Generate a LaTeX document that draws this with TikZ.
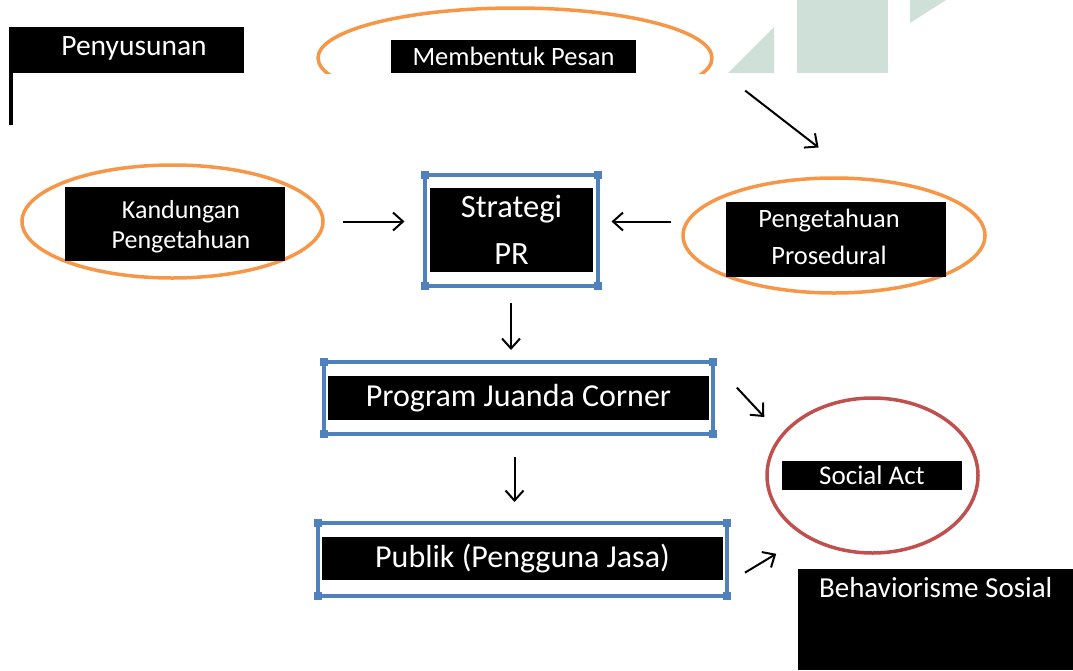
\documentclass[tikz,border=0pt]{standalone}
\usepackage{fontspec}
\setmainfont{Carlito}
\definecolor{myorange}{RGB}{247,150,70}
\definecolor{myblue}{RGB}{79,129,189}
\definecolor{myred}{RGB}{192,80,77}
\definecolor{mywater}{RGB}{207,224,216}
\usetikzlibrary{shapes.geometric,arrows.meta,positioning}

\begin{document}
\begin{tikzpicture}[
  x=1pt,
  y=-1pt,
  blackbox/.style={
    fill=black,
    text=white,
    inner sep=0pt,
    align=center
    },
  ring/.style={ellipse, draw=#1, line width=3.5pt, inner sep=0pt},
  frame/.style={draw=myblue, line width=4pt, inner sep=0pt, outer sep=0pt},
  corner/.style={fill=myblue, minimum size=8pt, inner sep=0pt},
  arr/.style={line width=2pt, -{Straight Barb[length=10pt,width=18pt]}},
  small/.style={font=\fontsize{26.5}{31}\selectfont},
  big/.style={font=\fontsize{32.5}{47}\selectfont}
]
\useasboundingbox (0,0) rectangle (1073,670);

\begin{scope}
  \clip (0,0) rectangle (1073,73);
  \fill[mywater] (728,73) -- (774,27) -- (774,73) -- cycle;
  \fill[mywater] (797,0) rectangle (888,73);
  \node[ring=myorange, minimum width=394pt, minimum height=100pt] (pesanring) at (515,58) {};
\end{scope}
\fill[mywater] (910,0) -- (910,23) -- (946,0) -- cycle;
\node[blackbox, small, minimum width=245pt, minimum height=33pt] (pesan) at (513.5,56.5) {Membentuk Pesan};

\node[blackbox, minimum width=235pt, minimum height=46pt] (susun) at (126.5,50) {};
\node[text=white, font=\fontsize{29.5}{34}\selectfont, inner sep=0pt] (susuntxt) at (134,48) {Penyusunan};
\fill (susun.south west) rectangle ++(4,52);

\node[ring=myorange, minimum width=301pt, minimum height=113pt] (kandring) at (172.5,221.5) {};
\node[blackbox, font=\fontsize{26}{30}\selectfont, minimum width=220pt, minimum height=74pt] (kand) at (175,224) {};
\node[text=white, font=\fontsize{26}{30}\selectfont, inner sep=0pt, align=center] (kandtxt) at (181,227) {Kandungan\\Pengetahuan};

\node[frame, minimum width=173pt, minimum height=111pt] (strat) at (511,230.5) {};
\node[blackbox, big, minimum width=163pt, minimum height=84pt] (strattxt) at (511.5,230) {Strategi\\PR};

\node[ring=myorange, minimum width=302pt, minimum height=115pt] (procring) at (834,235.5) {};
\node[blackbox, minimum width=220pt, minimum height=75pt] (proc) at (836,239.5) {};
\node[text=white, font=\fontsize{26.5}{37}\selectfont, inner sep=0pt, align=center] (proctxt) at (829,236.5) {Pengetahuan\\Prosedural};

\node[frame, minimum width=389pt, minimum height=72pt] (prog) at (518.5,398) {};
\node[blackbox, font=\fontsize{32}{38}\selectfont, minimum width=381pt, minimum height=44pt] (progtxt) at (518.5,398) {Program Juanda Corner};

\node[frame, minimum width=409pt, minimum height=73pt] (pub) at (522.5,559.5) {};
\node[blackbox, font=\fontsize{32}{37}\selectfont, minimum width=401pt, minimum height=43pt] (pubtxt) at (522.5,558.5) {Publik (Pengguna Jasa)};

\foreach \Box in {strat,prog,pub}
  \foreach \Corner in {north west,north east,south west,south east}
    \node[corner] at (\Box.\Corner) {};

\node[ring=myred, minimum width=211pt, minimum height=155pt] (social) at (872.5,475.5) {};
\node[blackbox, font=\fontsize{27}{31}\selectfont, minimum width=180pt, minimum height=29pt] (socialtxt) at (872,475.5) {Social Act};

\node[blackbox, minimum width=275pt, minimum height=101pt, anchor=north west] (behav) at (798,569) {};
\node[text=white, font=\fontsize{29}{34}\selectfont, inner sep=0pt, below=8pt of behav.north] (behavtxt) {Behaviorisme Sosial};

\draw[arr, shorten <=42pt, shorten >=48pt] (pesanring.-2) -- (procring.69);
\draw[arr, shorten <=18pt, shorten >=20pt] (kandring.east) -- (kandring.east -| strat.west);
\draw[arr, shorten <=10pt, shorten >=14pt] (procring.west |- kandring.east) -- (strat.east |- kandring.east);
\draw[arr, shorten <=17pt, shorten >=12pt] (strat.south) -- (prog.north -| strat.south);
\draw[arr, shorten <=23pt, shorten >=21pt] ([xshift=-4pt]prog.south) -- ([xshift=-4pt]prog.south |- pub.north);
\draw[arr, shorten <=35pt, shorten >=24pt] (prog.north east) -- (social.156);
\draw[arr, shorten <=21pt, shorten >=33pt] ([yshift=-24pt]pub.east) -- (social.222);

\end{tikzpicture}
\end{document}
